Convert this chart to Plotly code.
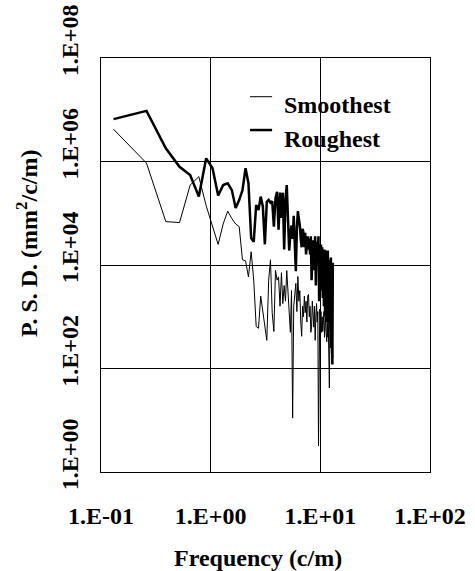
import plotly.graph_objects as go

# Frequency (c/m) - uniform FFT spacing
freq = [0.13, 0.26, 0.39, 0.52, 0.65, 0.78, 0.91, 1.04, 1.17, 1.3,
        1.43, 1.56, 1.69, 1.82, 1.95, 2.08, 2.21, 2.34, 2.47, 2.6,
        2.73, 2.86, 2.99, 3.12, 3.25, 3.38, 3.51, 3.64, 3.77, 3.9,
        4.03, 4.16, 4.29, 4.42, 4.55, 4.68, 4.81, 4.94, 5.07, 5.2,
        5.33, 5.46, 5.59, 5.72, 5.85, 5.98, 6.11, 6.24, 6.37, 6.5,
        6.63, 6.76, 6.89, 7.02, 7.15, 7.28, 7.41, 7.54, 7.67, 7.8,
        7.93, 8.06, 8.19, 8.32, 8.45, 8.58, 8.71, 8.84, 8.97, 9.1,
        9.23, 9.36, 9.49, 9.62, 9.75, 9.88, 10.01, 10.14, 10.27, 10.4,
        10.53, 10.66, 10.79, 10.92, 11.05, 11.18, 11.31, 11.44, 11.57, 11.7,
        11.83, 11.96, 12.09, 12.22, 12.35, 12.48, 12.61, 12.74, 12.87, 13.0]

# P.S.D. (mm^2/c/m)
smoothest = [4.2e6, 9.3e5, 6.9e4, 6.6e4, 3.5e5, 5.1e5, 1.4e5, 5.9e4, 2.5e4, 6.2e4,
             1.1e5, 7.9e4, 6.2e4, 5.5e4, 1.26e4, 1.2e4, 5.9e3, 1.8e4, 5.1e3, 6.5e2,
             6.0e2, 2.5e3, 1.2e3, 6.0e2, 3.5e2, 5.1e3, 1.26e4, 1.2e3, 5.2e2, 7.9e3,
             5.1e3, 5.9e3, 1.6e3, 7.1e3, 1.8e3, 4.0e3, 2.0e3, 7.8e3, 2.5e3, 1.0e3,
             5.0e2, 3.2e3, 11, 1.6e3, 2.5e3, 4.4e3, 1.26e3, 6.0e3, 2.0e3, 3.2e3,
             7.9e2, 4.2e2, 1.6e3, 1.0e3, 2.5e3, 1.2e3, 2.0e3, 7.9e2, 2.5e3, 2.7e3,
             1.0e3, 1.6e3, 5.0e2, 6.3e2, 2.0e3, 1.26e3, 6.3e2, 1.6e3, 3.5e2, 1.0e3,
             1.8e3, 7.9e2, 1.26e3, 3.2, 6.3e2, 1.4e3, 7.9e2, 1.26e3, 5.0e2, 1.0e3,
             5.2e2, 7.9e2, 1.26e3, 4.0e2, 8.9e2, 1.0e3, 5.0e2, 3.3e2, 7.9e2, 4.0e2,
             6.3e2, 2.5e2, 42, 5.0e2, 2.5e2, 5.0e2, 2.0e2, 2.4e2, 4.0e2, 1.6e2]

roughest = [6.6e6, 9.5e6, 1.8e6, 7.9e5, 5.5e5, 2.1e5, 1.15e6, 7.4e5, 2.2e5, 3.5e5,
            3.8e5, 2.8e5, 1.26e5, 1.8e5, 2.8e5, 7.4e5, 3.8e5, 3.3e4, 2.8e4, 1.45e5,
            1.15e5, 2.1e5, 1.35e5, 2.5e4, 1.66e5, 1.8e5, 1.6e5, 1.7e5, 5.5e4, 1.95e5,
            2.6e5, 4.8e4, 2.5e5, 8.1e4, 2.5e5, 2.0e4, 1.8e5, 3.5e5, 7.9e4, 1.9e4,
            4.0e4, 5.8e4, 3.2e4, 8.9e4, 2.5e4, 7.6e3, 5.0e4, 1.1e5, 7.9e4, 5.8e4,
            3.2e4, 2.2e4, 5.0e4, 4.2e4, 2.2e4, 4.2e4, 1.6e4, 2.8e4, 3.6e4, 2.0e4,
            3.2e4, 1.6e4, 3.6e4, 5.1e3, 2.5e4, 3.0e4, 7.9e3, 2.8e4, 3.6e4, 4.0e3,
            2.8e4, 1.1e4, 3.3e4, 3.6e4, 2.0e3, 2.4e4, 4.0e3, 2.5e4, 3.2e3, 2.2e4,
            2.3e3, 1.9e4, 1.6e3, 2.0e4, 1.0e3, 1.9e4, 1.26e3, 1.6e4, 7.9e2, 1.9e4,
            1.0e3, 1.26e4, 6.3e2, 1.0e4, 5.0e2, 1.4e4, 3.2e2, 7.9e3, 1.2e2, 1.1e4]

x_tickvals = [0.1, 1, 10, 100]
x_ticktext = ["1.E-01", "1.E+00", "1.E+01", "1.E+02"]
y_tickvals = [1, 1e2, 1e4, 1e6, 1e8]
y_ticktext = ["1.E+00", "1.E+02", "1.E+04", "1.E+06", "1.E+08"]

FONT = "Liberation Serif, Times New Roman, serif"

fig = go.Figure()
fig.add_trace(go.Scatter(x=freq, y=smoothest, mode="lines", name="Smoothest",
                         line=dict(color="black", width=1), showlegend=False))
fig.add_trace(go.Scatter(x=freq, y=roughest, mode="lines", name="Roughest",
                         line=dict(color="black", width=2.5), showlegend=False))

axis_common = dict(
    showgrid=True, gridcolor="black", gridwidth=1,
    showline=True, linecolor="black", linewidth=1, mirror=True,
    ticks="", zeroline=False, automargin=False,
    tickfont=dict(family=FONT, size=24, color="black", weight="bold"),
)
fig.update_xaxes(type="log", range=[-1, 2], tickvals=x_tickvals, ticktext=x_ticktext,
                 ticklabelstandoff=22, **axis_common)
fig.update_yaxes(type="log", range=[0, 8], tickvals=y_tickvals, ticktext=y_ticktext,
                 tickangle=-90, ticklabelshift=-14, ticklabelstandoff=12, **axis_common)

title_font = dict(family=FONT, size=24, color="black", weight="bold")
fig.add_annotation(text="Frequency (c/m)", xref="paper", yref="paper",
                   x=0.4787, y=-0.2077, xanchor="center", yanchor="middle",
                   showarrow=False, font=title_font)
fig.add_annotation(text="P. S. D. (mm<sup>2</sup>/c/m)", xref="paper", yref="paper",
                   x=-0.225, y=0.553, xanchor="center", yanchor="middle",
                   textangle=-90, showarrow=False, font=title_font)

# manual legend
legend_items = [("Smoothest", 1, 0.9065, 0.886), ("Roughest", 2.5, 0.826, 0.804)]
for label, w, ly, ty in legend_items:
    fig.add_shape(type="line", xref="paper", yref="paper", x0=0.453, x1=0.52,
                  y0=ly, y1=ly, line=dict(color="black", width=w))
    fig.add_annotation(text=label, xref="paper", yref="paper", x=0.55, y=ty,
                       xanchor="left", yanchor="middle", showarrow=False,
                       font=title_font)

fig.update_layout(
    width=475, height=571,
    margin=dict(l=101, r=45, t=58, b=99),
    paper_bgcolor="white", plot_bgcolor="white",
    font=dict(family=FONT, color="black"),
)

fig.write_html("out.html")
